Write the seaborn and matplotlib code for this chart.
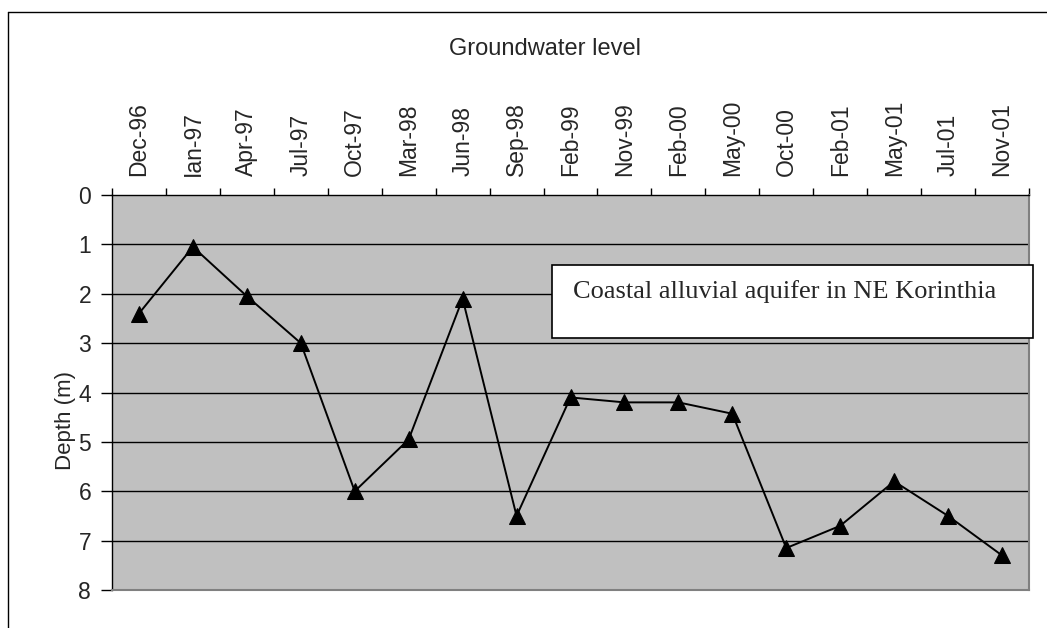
import matplotlib
matplotlib.use("Agg")
import matplotlib.pyplot as plt
import seaborn as sns
import pandas as pd
from matplotlib.patches import Rectangle
from matplotlib.lines import Line2D

dates = ["Dec-96", "Ian-97", "Apr-97", "Jul-97", "Oct-97", "Mar-98", "Jun-98", "Sep-98",
         "Feb-99", "Nov-99", "Feb-00", "May-00", "Oct-00", "Feb-01", "May-01", "Jul-01", "Nov-01"]
depth = [2.4, 1.05, 2.05, 3.0, 6.0, 4.95, 2.1, 6.5, 4.1, 4.2, 4.2, 4.43, 7.15, 6.7, 5.8, 6.5, 7.3]
y_ticks = [0, 1, 2, 3, 4, 5, 6, 7, 8]

sns.set_style("white")
plt.rcParams["font.family"] = ["Liberation Sans", "DejaVu Sans"]

fig = plt.figure(figsize=(10.47, 6.28), dpi=100)
ax = fig.add_axes([112/1047, 1-590/628, (1029-112)/1047, (590-195)/628])
ax.set_facecolor("#c0c0c0")

df = pd.DataFrame({"date": dates, "depth": depth, "pos": range(len(dates))})
sns.lineplot(data=df, x="pos", y="depth", ax=ax, color="black", linewidth=1.4,
             marker="^", markersize=11, markeredgecolor="black", markerfacecolor="black")

ax.set_xlim(-0.5, len(dates) - 0.5)
ax.set_ylim(8, 0)
ax.set_yticks(y_ticks)
ax.set_yticklabels([str(v) for v in y_ticks], fontsize=16.5)
for v in y_ticks[1:-1]:
    ax.axhline(v, color="black", linewidth=1, zorder=1)

ax.xaxis.tick_top()
ax.set_xticks(range(len(dates)))
ax.set_xticklabels(dates, rotation=90, fontsize=16.5)
ax.set_xticks([i - 0.5 for i in range(len(dates) + 1)], minor=True)
ax.tick_params(axis="x", which="major", length=0, pad=14)
ax.tick_params(axis="x", which="minor", length=5, width=1, color="black", top=True, bottom=False)
ax.tick_params(axis="y", which="major", length=8, width=1, color="black", pad=7, left=True)
ax.set_xlabel("")
ax.set_ylabel("Depth (m)", fontsize=16)
ax.yaxis.set_label_coords(-0.039, 0.428)

for side in ["top", "left"]:
    ax.spines[side].set_color("black")
    ax.spines[side].set_linewidth(1)
for side in ["bottom", "right"]:
    ax.spines[side].set_color("#808080")
    ax.spines[side].set_linewidth(1.5)

fig.text(545/1047, 1 - 49/628, "Groundwater level", ha="center", va="center", fontsize=17)

# annotation box
fig.patches.append(Rectangle((552/1047, 1-338/628), (1033-552)/1047, (338-265)/628,
                             transform=fig.transFigure, facecolor="white", edgecolor="black",
                             linewidth=1.2, zorder=5))
fig.text(573/1047, 1-292/628, "Coastal alluvial aquifer in NE Korinthia", ha="left", va="center",
         fontsize=19, family=["Liberation Serif", "DejaVu Serif"], zorder=6)

# outer frame (partially visible)
fig.lines.append(Line2D([8/1047, 8/1047], [0, 1-12/628], transform=fig.transFigure,
                        color="black", linewidth=1))
fig.lines.append(Line2D([8/1047, 1], [1-12/628, 1-12/628], transform=fig.transFigure,
                        color="black", linewidth=1))

fig.savefig("out.png", dpi=100, facecolor="white")
